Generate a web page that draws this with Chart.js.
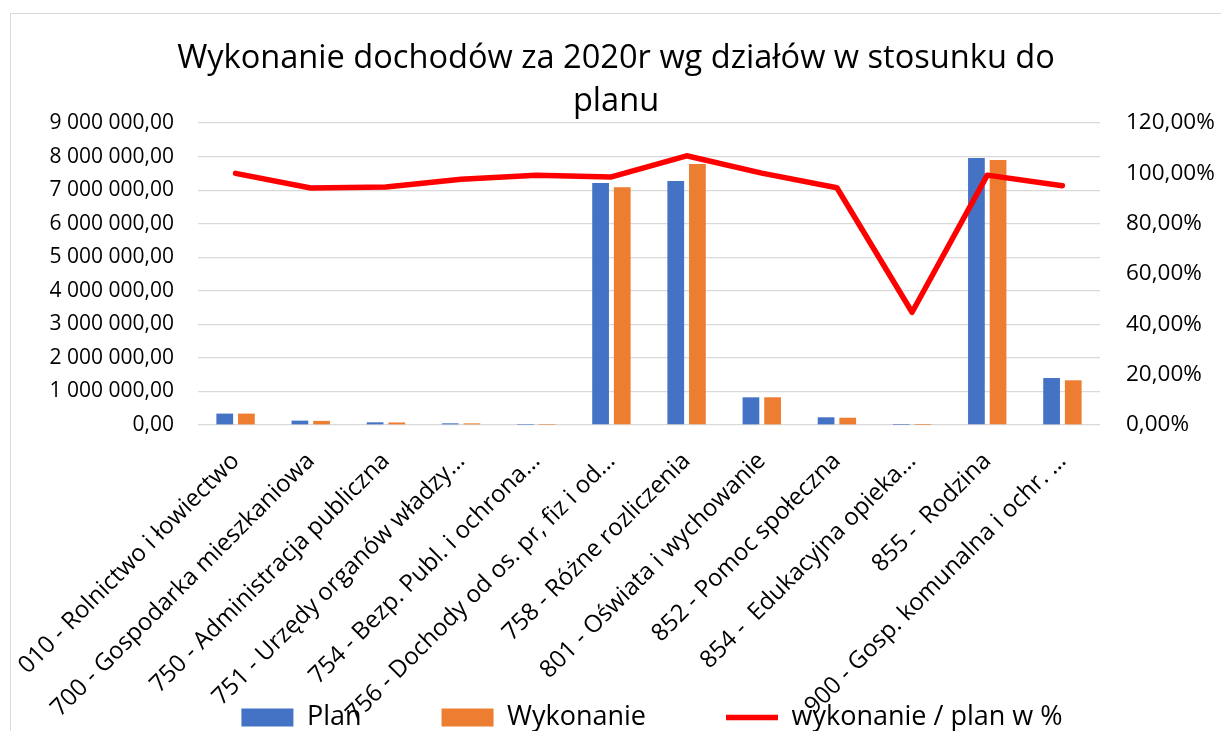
<!DOCTYPE html>
<html>
<head>
<meta charset="utf-8">
<script src="https://cdn.jsdelivr.net/npm/chart.js@4/dist/chart.umd.min.js"></script>
<style>
  html, body { margin: 0; padding: 0; background: #ffffff; overflow: hidden; }
  #wrap { position: relative; width: 1221px; height: 731px; overflow: hidden; }
  #frame { position: absolute; left: 10px; top: 13px; width: 1260px; height: 760px; border: 1px solid #d9d9d9; box-sizing: border-box; }
  #c { position: absolute; left: 0; top: 0; }
</style>
</head>
<body>
<div id="wrap">
  <div id="frame"></div>
  <canvas id="c" width="1221" height="741"></canvas>
</div>
<script>
const titleLines = ['Wykonanie dochodów za 2020r wg działów w stosunku do', 'planu'];
const categories = [
  '010 - Rolnictwo i łowiectwo',
  '700 - Gospodarka mieszkaniowa',
  '750 - Administracja publiczna',
  '751 - Urzędy organów władzy…',
  '754 - Bezp. Publ. i ochrona…',
  '756 - Dochody od os. pr, fiz i od…',
  '758 - Różne rozliczenia',
  '801 - Oświata i wychowanie',
  '852 - Pomoc społeczna',
  '854 -  Edukacyjna opieka…',
  '855 -  Rodzina',
  '900 - Gosp. komunalna i ochr. …'
];
const planValues = [340000, 130000, 80000, 50000, 5000, 7210000, 7270000, 825000, 230000, 3000, 7960000, 1400000];
const wykonanieValues = [340000, 122500, 75700, 48900, 4970, 7090000, 7780000, 826000, 217000, 1340, 7900000, 1332000];
const percentValues = [100.0, 94.2, 94.6, 97.7, 99.3, 98.6, 107.0, 100.1, 94.3, 44.8, 99.3, 95.1];
const seriesNames = ['Plan', 'Wykonanie', 'wykonanie / plan w %'];

const FONT = "'Open Sans', 'DejaVu Sans', sans-serif";

function fmtAmount(v) {
  const parts = Number(v).toFixed(2).split('.');
  const intPart = parts[0].replace(/\B(?=(\d{3})+(?!\d))/g, ' ');
  return intPart + ',' + parts[1];
}
function fmtPercent(v) {
  return Number(v).toFixed(2).replace('.', ',') + '%';
}

// Shifts the legend to the right (as in the original) and lets the rotated
// category labels run down behind the legend, as they do in the reference.
const layoutTweaks = {
  id: 'layoutTweaks',
  afterLayout(chart) {
    const lg = chart.legend;
    if (lg) { lg.left += 36; lg.right += 36; }
    const xs = chart.scales.x;
    if (xs) { xs.bottom = chart.height; }
  }
};

new Chart(document.getElementById('c'), {
  type: 'bar',
  plugins: [layoutTweaks],
  data: {
    labels: categories,
    datasets: [
      {
        label: seriesNames[0],
        data: planValues,
        backgroundColor: '#4472C4',
        borderWidth: 0,
        pointStyle: 'rect',
        yAxisID: 'y',
        order: 2,
        categoryPercentage: 0.576,
        barPercentage: 0.773
      },
      {
        label: seriesNames[1],
        data: wykonanieValues,
        backgroundColor: '#ED7D31',
        borderWidth: 0,
        pointStyle: 'rect',
        yAxisID: 'y',
        order: 2,
        categoryPercentage: 0.576,
        barPercentage: 0.773
      },
      {
        type: 'line',
        label: seriesNames[2],
        data: percentValues,
        borderColor: '#FF0000',
        backgroundColor: '#FF0000',
        borderWidth: 5.5,
        pointRadius: 0,
        pointHoverRadius: 0,
        pointStyle: 'line',
        tension: 0,
        borderCapStyle: 'round',
        borderJoinStyle: 'round',
        yAxisID: 'y1',
        order: 1
      }
    ]
  },
  options: {
    responsive: false,
    animation: false,
    events: [],
    layout: { padding: { left: 11, right: 0, top: 0, bottom: 0 } },
    plugins: {
      title: {
        display: true,
        text: titleLines,
        color: '#000000',
        font: { family: FONT, size: 32.6, weight: 'normal', lineHeight: 1.32 },
        padding: { top: 37, bottom: 0 }
      },
      legend: {
        display: true,
        position: 'bottom',
        labels: {
          usePointStyle: true,
          pointStyleWidth: 52,
          boxHeight: 18,
          padding: 80,
          color: '#000000',
          font: { family: FONT, size: 27 },
          sort: (a, b) => a.datasetIndex - b.datasetIndex
        }
      },
      tooltip: { enabled: false }
    },
    scales: {
      x: {
        grid: { display: false, drawTicks: false },
        border: { display: false },
        ticks: {
          autoSkip: false,
          minRotation: 45,
          maxRotation: 45,
          padding: 22,
          color: '#000000',
          font: { family: FONT, size: 24 }
        },
        afterFit: (s) => { s.height = 199; s.paddingLeft = 0; s.paddingRight = 0; }
      },
      y: {
        position: 'left',
        min: 0,
        max: 9000000,
        grid: { color: '#d9d9d9', lineWidth: 1.3, drawTicks: false },
        border: { display: false },
        ticks: {
          stepSize: 1000000,
          autoSkip: false,
          padding: 24,
          color: '#000000',
          font: { family: FONT, size: 21 },
          callback: (v) => fmtAmount(v)
        },
        afterFit: (s) => { s.width = 187; }
      },
      y1: {
        position: 'right',
        min: 0,
        max: 120,
        grid: { display: false, drawTicks: false },
        border: { display: false },
        ticks: {
          stepSize: 20,
          autoSkip: false,
          padding: 26,
          color: '#000000',
          font: { family: FONT, size: 22.5 },
          callback: (v) => fmtPercent(v)
        },
        afterFit: (s) => { s.width = 121; }
      }
    }
  }
});
</script>
</body>
</html>
